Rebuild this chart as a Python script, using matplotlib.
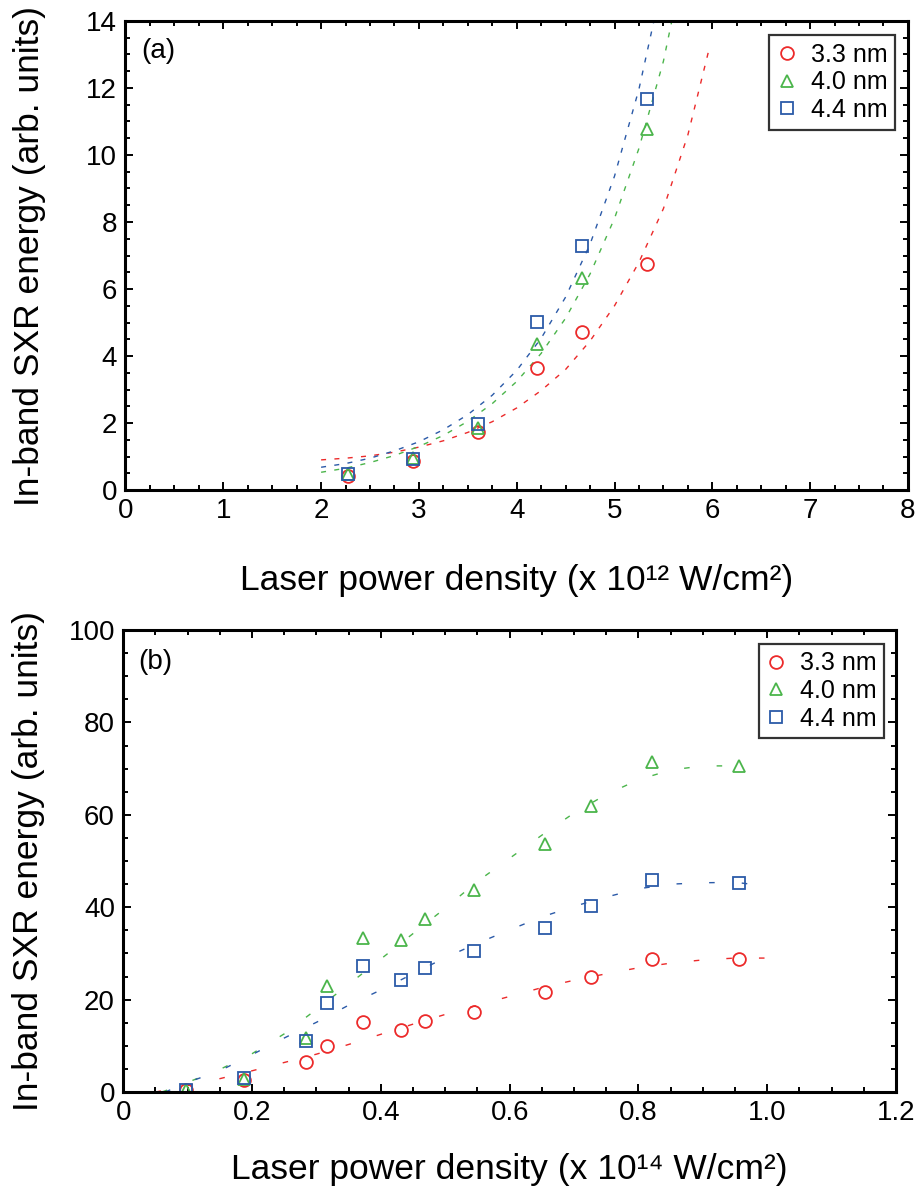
# in-band SXR energy vs laser power density, two panels
import matplotlib
matplotlib.use('Agg')
from matplotlib import pyplot as plt
from matplotlib.ticker import MultipleLocator

plt.rcParams['font.family'] = ['Liberation Sans', 'DejaVu Sans']

# panel (a): power density in 1e12 W/cm2
x_a = [2.28, 2.94, 3.60, 4.21, 4.67, 5.33]
y_a_33 = [0.42, 0.88, 1.72, 3.64, 4.72, 6.76]
y_a_40 = [0.48, 0.95, 1.85, 4.35, 6.33, 10.77]
y_a_44 = [0.48, 0.92, 1.98, 5.02, 7.28, 11.66]

# fitted curves of panel (a)
fit_a_33_x = [2.0, 2.25, 2.5, 2.75, 3.0, 3.25, 3.5, 3.75, 4.0, 4.25, 4.5, 4.75, 5.0, 5.25, 5.5, 5.75, 5.97]
fit_a_33_y = [0.9, 0.95, 1.02, 1.13, 1.28, 1.47, 1.72, 2.04, 2.45, 2.97, 3.6, 4.45, 5.5, 6.8, 8.4, 10.6, 13.2]
fit_a_40_x = [2.0, 2.25, 2.5, 2.75, 3.0, 3.25, 3.5, 3.75, 4.0, 4.25, 4.5, 4.75, 5.0, 5.25, 5.5, 5.6]
fit_a_40_y = [0.53, 0.65, 0.82, 1.03, 1.3, 1.63, 2.05, 2.58, 3.24, 4.08, 5.13, 6.45, 8.11, 10.2, 12.8, 14.2]
fit_a_44_x = [2.0, 2.25, 2.5, 2.75, 3.0, 3.25, 3.5, 3.75, 4.0, 4.25, 4.5, 4.75, 5.0, 5.25, 5.5]
fit_a_44_y = [0.68, 0.79, 0.95, 1.17, 1.44, 1.8, 2.25, 2.83, 3.57, 4.53, 5.76, 7.34, 9.37, 11.97, 15.3]

# panel (b): power density in 1e14 W/cm2
x_b = [0.097, 0.188, 0.284, 0.316, 0.373, 0.431, 0.469, 0.545, 0.655, 0.727, 0.821, 0.956]
y_b_33 = [0.5, 2.5, 6.6, 9.9, 15.1, 13.4, 15.3, 17.3, 21.6, 24.8, 28.7, 28.7]
y_b_40 = [0.5, 2.8, 11.8, 23.0, 33.4, 33.0, 37.5, 43.7, 53.6, 61.9, 71.4, 70.5]
y_b_44 = [0.4, 3.0, 11.1, 19.3, 27.2, 24.2, 26.8, 30.5, 35.6, 40.3, 46.0, 45.3]

# smooth curves of panel (b)
fit_b_33_x = [0.05, 0.10, 0.15, 0.20, 0.25, 0.30, 0.35, 0.40, 0.45, 0.50, 0.55, 0.60, 0.65, 0.70, 0.75, 0.80, 0.85, 0.90, 0.95, 1.00]
fit_b_33_y = [0.0, 1.4, 2.9, 4.6, 6.4, 8.2, 10.3, 12.5, 14.7, 16.8, 18.8, 20.7, 22.6, 24.2, 25.6, 26.9, 27.9, 28.6, 29.0, 29.0]
fit_b_40_x = [0.06, 0.10, 0.15, 0.20, 0.25, 0.30, 0.35, 0.40, 0.45, 0.50, 0.55, 0.60, 0.65, 0.70, 0.75, 0.80, 0.85, 0.90, 0.95]
fit_b_40_y = [0.0, 2.1, 4.9, 8.3, 12.6, 17.9, 23.3, 28.8, 34.3, 39.8, 45.6, 50.6, 55.6, 60.4, 64.4, 67.6, 69.7, 70.6, 70.6]
fit_b_44_x = [0.065, 0.10, 0.15, 0.20, 0.25, 0.30, 0.35, 0.40, 0.45, 0.50, 0.55, 0.60, 0.65, 0.70, 0.75, 0.80, 0.85, 0.90, 0.95, 1.00]
fit_b_44_y = [0.0, 2.1, 4.6, 8.1, 11.7, 15.1, 18.8, 22.1, 25.6, 29.1, 32.2, 35.1, 37.9, 40.2, 42.2, 44.0, 45.0, 45.3, 45.4, 44.6]

labels = ['3.3 nm', '4.0 nm', '4.4 nm']
colors = ['#ec2a2a', '#4bb54b', '#2b5aa8']
markers = ['o', '^', 's']

fig = plt.figure(figsize=(9.2, 11.99), dpi=100)
ax1 = fig.add_axes([0.1364, 0.5913, 0.8505, 0.3912])
ax2 = fig.add_axes([0.1340, 0.0892, 0.8399, 0.3853])


def style(ax):
    for s in ax.spines.values():
        s.set_linewidth(2.2)
    ax.tick_params(which='both', direction='in', top=True, right=True, width=1.4)
    ax.tick_params(which='major', length=6, labelsize=20, pad=6)
    ax.tick_params(which='minor', length=3.5)
    ax.set_ylabel('In-band SXR energy (arb. units)', fontsize=25.5)


def legend(ax, x):
    leg = ax.legend(loc='upper right', bbox_to_anchor=(x, 0.970), borderaxespad=0,
                    fontsize=18, frameon=True, fancybox=False, edgecolor='black',
                    handlelength=0.8, handletextpad=0.55, labelspacing=0.15, borderpad=0.3)
    leg.get_frame().set_linewidth(1.6)


# panel (a)
fits_a = [(fit_a_33_x, fit_a_33_y), (fit_a_40_x, fit_a_40_y), (fit_a_44_x, fit_a_44_y)]
ys_a = [y_a_33, y_a_40, y_a_44]
for i in range(3):
    ax1.plot(fits_a[i][0], fits_a[i][1], color=colors[i], lw=1.0, dashes=(3.6, 6))
for i in range(3):
    ax1.plot(x_a, ys_a[i], ls='none', marker=markers[i], ms=9.2, mfc='none',
             mec=colors[i], mew=1.3, label=labels[i])
ax1.set_xlim(0, 8)
ax1.set_ylim(0, 14)
ax1.xaxis.set_major_locator(MultipleLocator(1))
ax1.xaxis.set_minor_locator(MultipleLocator(0.25))
ax1.yaxis.set_major_locator(MultipleLocator(2))
ax1.yaxis.set_minor_locator(MultipleLocator(0.5))
style(ax1)
ax1.set_xlabel('Laser power density (x 10\u00b9\u00b2 W/cm\u00b2)', fontsize=25.5, va='top')
ax1.xaxis.set_label_coords(0.5, -0.158)
ax1.yaxis.set_label_coords(-0.102, 0.5)
ax1.text(0.020, 0.964, '(a)', transform=ax1.transAxes, fontsize=20, ha='left', va='top')
legend(ax1, 0.983)

# panel (b)
fits_b = [(fit_b_33_x, fit_b_33_y), (fit_b_40_x, fit_b_40_y), (fit_b_44_x, fit_b_44_y)]
ys_b = [y_b_33, y_b_40, y_b_44]
for i in range(3):
    ax2.plot(fits_b[i][0], fits_b[i][1], color=colors[i], lw=1.0, dashes=(4, 19.5))
for i in range(3):
    ax2.plot(x_b, ys_b[i], ls='none', marker=markers[i], ms=9.2, mfc='none',
             mec=colors[i], mew=1.3, label=labels[i])
ax2.set_xlim(0, 1.2)
ax2.set_ylim(0, 100)
ax2.xaxis.set_major_locator(MultipleLocator(0.2))
ax2.xaxis.set_minor_locator(MultipleLocator(0.05))
ax2.yaxis.set_major_locator(MultipleLocator(20))
ax2.yaxis.set_minor_locator(MultipleLocator(5))
ax2.set_xticks([0, 0.2, 0.4, 0.6, 0.8, 1.0, 1.2])
ax2.set_xticklabels(['0', '0.2', '0.4', '0.6', '0.8', '1.0', '1.2'])
style(ax2)
ax2.set_xlabel('Laser power density (x 10\u00b9\u2074 W/cm\u00b2)', fontsize=25.5, va='top')
ax2.xaxis.set_label_coords(0.5, -0.133)
ax2.yaxis.set_label_coords(-0.101, 0.5)
ax2.text(0.019, 0.959, '(b)', transform=ax2.transAxes, fontsize=20, ha='left', va='top')
legend(ax2, 0.9845)

fig.savefig('out.png', dpi=100)
